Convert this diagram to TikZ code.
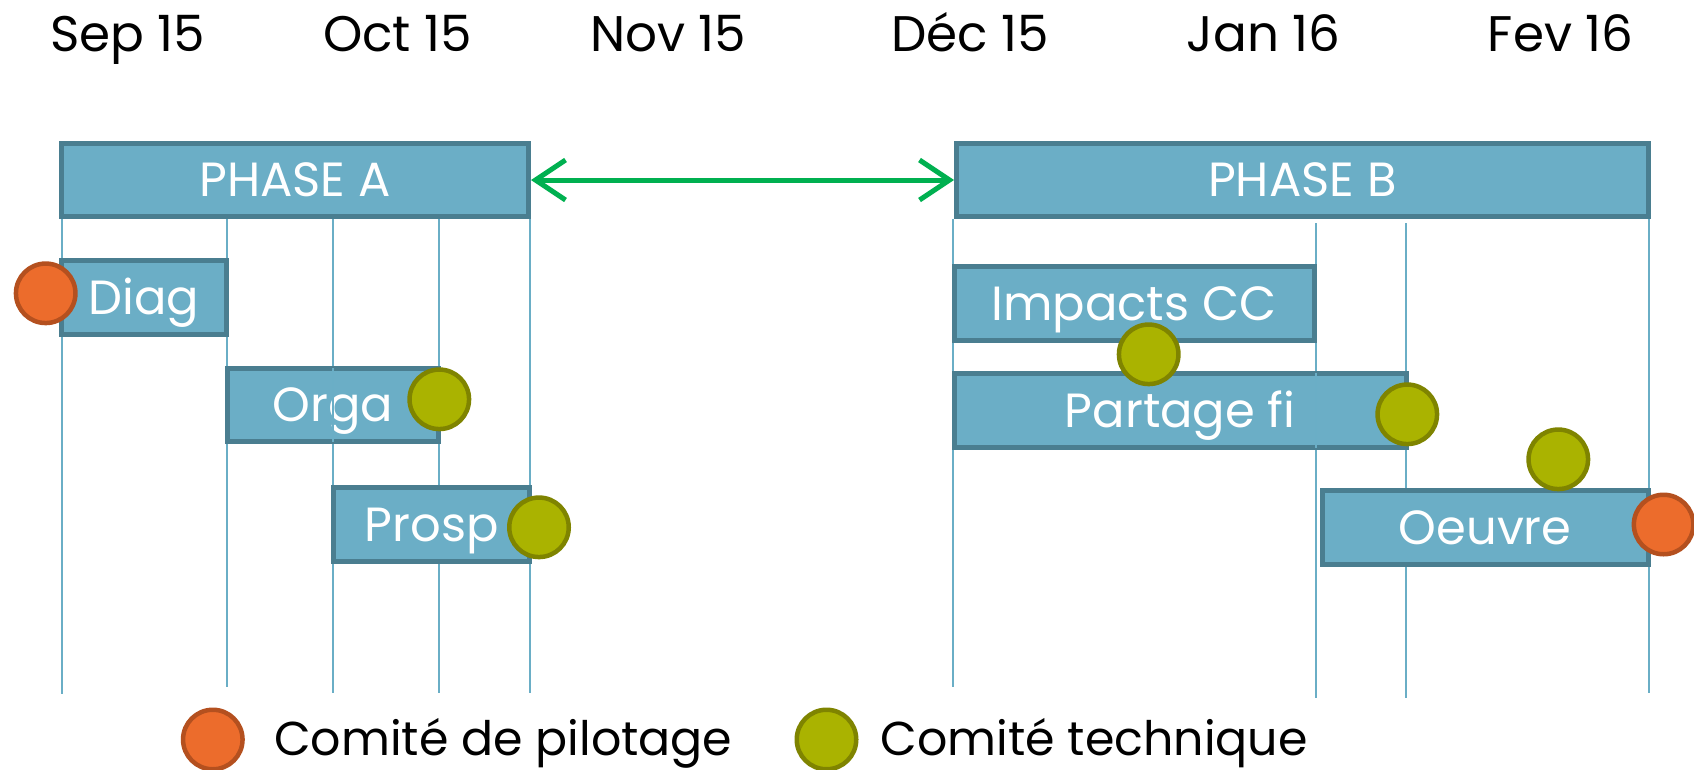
\documentclass[tikz,border=0pt]{standalone}
\usepackage{fontspec}
\setmainfont{Poppins}
\usetikzlibrary{arrows.meta}
\definecolor{barfill}{HTML}{6BAEC6}
\definecolor{barline}{HTML}{4A7E90}
\definecolor{gridc}{HTML}{6AAEC6}
\definecolor{orfill}{HTML}{EC6C2C}
\definecolor{orline}{HTML}{B4501F}
\definecolor{grfill}{HTML}{AAB300}
\definecolor{grline}{HTML}{7F8400}
\definecolor{arrowc}{HTML}{00B050}
\begin{document}
\begin{tikzpicture}[x=1pt,y=-1pt,
  bar/.style={draw=barline, fill=barfill, line width=5pt, text=white,
    font=\fontsize{48}{52}\selectfont, text height=34pt, text depth=0pt, inner sep=0pt},
  grid/.style={draw=gridc, line width=2pt},
  cpil/.style={circle, draw=orline, fill=orfill, line width=4.5pt, minimum size=59.5pt, inner sep=0pt},
  ctech/.style={circle, draw=grline, fill=grfill, line width=4.5pt, minimum size=59.5pt, inner sep=0pt},
  month/.style={anchor=base, font=\fontsize{50}{54}\selectfont, inner sep=0pt},
  legtext/.style={anchor=base west, font=\fontsize{47.5}{52}\selectfont, inner sep=0pt},
  link/.style={draw=arrowc, line width=5pt, {Straight Barb[length=30pt,width=40pt]}-{Straight Barb[length=30pt,width=40pt]}}
]
\useasboundingbox (0,0) rectangle (1694,769);

% month labels
\node[month] (m1) at (127.5,51) {Sep 15};
\node[month] (m2) at (397.6,51) {Oct 15};
\node[month] (m3) at (668.2,51) {Nov 15};
\node[month] (m4) at (970.2,51) {Déc 15};
\node[month] (m5) at (1263.6,51) {Jan 16};
\node[month] (m6) at (1560.6,51) {Fev 16};

% grid lines
\draw[grid] (61.5,187) -- (61.5,694);
\draw[grid] (226.8,219) -- (226.8,687);
\draw[grid] (333,219) -- (333,693);
\draw[grid] (438.6,219) -- (438.6,693);
\draw[grid] (530,219) -- (530,693);
\draw[grid] (953,219) -- (953,687);
\draw[grid] (1316,223) -- (1316,698);
\draw[grid] (1406,223) -- (1406,698);
\draw[grid] (1648.7,219) -- (1648.7,693);

% phases
\node[bar, minimum width=467pt, minimum height=72.8pt] (phaseA) at (295,179.6) {PHASE A};
\node[bar, minimum width=691.6pt, minimum height=73.3pt] (phaseB) at (1302.3,179.8) {PHASE B};

% tasks
\node[bar, minimum width=165pt, minimum height=74pt] (diag) at (144,297.8) {Diag};
\node[bar, minimum width=211pt, minimum height=73.3pt] (orga) at (333,404.9) {Orga};
\node[bar, minimum width=195.6pt, minimum height=74pt] (prosp) at (431.7,524.5) {Prosp};
\node[bar, minimum width=360pt, minimum height=73.4pt] (impacts) at (1134,303.5) {Impacts CC};
\node[bar, minimum width=452.3pt, minimum height=74.3pt] (partage) at (1180.2,410.4) {Partage fi};
\node[bar, minimum width=325.8pt, minimum height=73.4pt] (oeuvre) at (1485.2,527.5) {Oeuvre};

% grid segments visible over bars
\draw[grid] (333,368) -- (333,442);
\draw[grid] (1316,373) -- (1316,448);

% milestones
\node[cpil] (c1) at (45.7,293.3) {};
\node[ctech] (c2) at (439.3,399.3) {};
\node[ctech] (c3) at (539,527.3) {};
\node[ctech] (c4) at (1148.7,354.3) {};
\node[ctech] (c5) at (1407.3,414.3) {};
\node[ctech] (c6) at (1558.3,459.3) {};
\node[cpil] (c7) at (1663.6,524.5) {};

% link between phases
\draw[link] (phaseA.east |- 0,180) -- (phaseB.west |- 0,180);

% legend
\node[cpil] (lg1) at (212.8,739.5) {};
\node[legtext] (lt1) at (274,755) {Comité de pilotage};
\node[ctech] (lg2) at (826.5,739.5) {};
\node[legtext] (lt2) at (880.5,755) {Comité technique};
\end{tikzpicture}
\end{document}
